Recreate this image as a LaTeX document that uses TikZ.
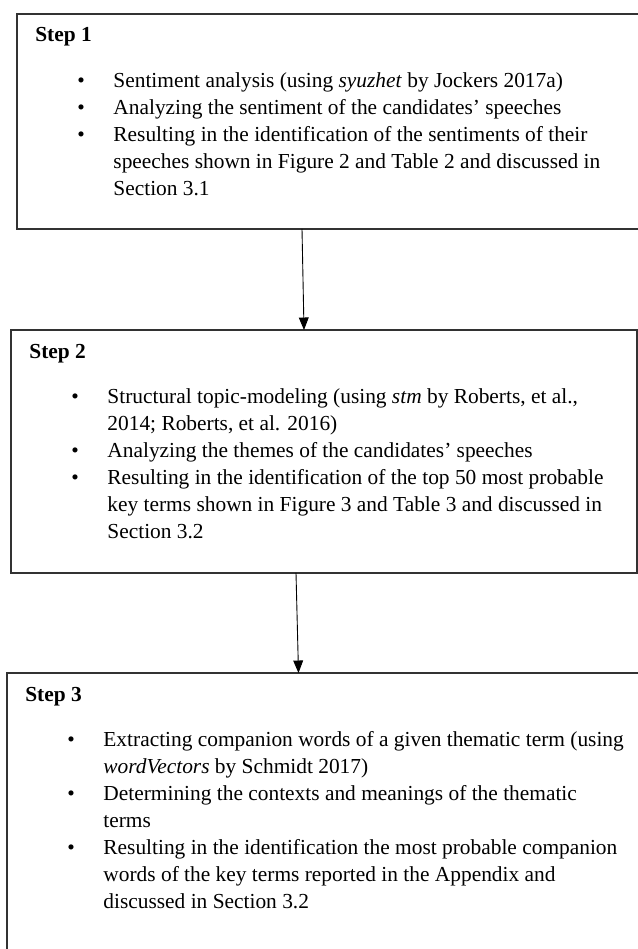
\documentclass[tikz,border=0pt]{standalone}
\usepackage{fontspec}
\setmainfont{Liberation Serif}
\usepackage{tikz}
\usetikzlibrary{arrows.meta,positioning}
\definecolor{boxgray}{RGB}{50,50,50}

\begin{document}
\begin{tikzpicture}[
    x=0.561pt, y=-0.561pt,
    stepbox/.style={rectangle, draw=boxgray, line width=0.8pt, anchor=north west, inner sep=0pt, outer sep=0pt},
    steptext/.style={anchor=base west, inner sep=0pt, font=\fontsize{12}{15.15}\selectfont},
    flow/.style={-{Triangle[width=5.5pt,length=7pt]}, line width=0.5pt}
]
\useasboundingbox (0,0) rectangle (638,949);
\clip (0,0) rectangle (638,949);

\node[stepbox, minimum width=350.6pt, minimum height=120.6pt] (s1) at (17,14) {};
\node[stepbox, minimum width=351.2pt, minimum height=136.3pt] (s2) at (11,330) {};
\node[stepbox, minimum width=360.7pt, minimum height=163.8pt] (s3) at (7,673) {};

\node[steptext] (t1) at ([shift={(18,28)}]s1.north west) {%
\begin{tabular}[t]{@{}p{23.6pt}@{}p{20.2pt}@{}p{330pt}@{}}
\multicolumn{3}{@{}l@{}}{\textbf{Step 1}}\\[10.6pt]
& \textbullet & Sentiment analysis (using \textit{syuzhet} by Jockers 2017a)\\
& \textbullet & Analyzing the sentiment of the candidates’ speeches\\
& \textbullet & Resulting in the identification of the sentiments of their\newline speeches shown in Figure 2 and Table 2 and discussed in\newline Section 3.1
\end{tabular}};
\node[steptext] (t2) at ([shift={(18,28)}]s2.north west) {%
\begin{tabular}[t]{@{}p{23.6pt}@{}p{20.2pt}@{}p{330pt}@{}}
\multicolumn{3}{@{}l@{}}{\textbf{Step 2}}\\[10.6pt]
& \textbullet & Structural topic-modeling (using \textit{stm} by Roberts, et al.,\newline 2014; Roberts, et al. 2016)\\
& \textbullet & Analyzing the themes of the candidates’ speeches\\
& \textbullet & Resulting in the identification of the top 50 most probable\newline key terms shown in Figure 3 and Table 3 and discussed in\newline Section 3.2
\end{tabular}};
\node[steptext] (t3) at ([shift={(18,28)}]s3.north west) {%
\begin{tabular}[t]{@{}p{23.6pt}@{}p{20.2pt}@{}p{330pt}@{}}
\multicolumn{3}{@{}l@{}}{\textbf{Step 3}}\\[10.6pt]
& \textbullet & Extracting companion words of a given thematic term (using\newline \textit{wordVectors} by Schmidt 2017)\\
& \textbullet & Determining the contexts and meanings of the thematic\newline terms\\
& \textbullet & Resulting in the identification the most probable companion\newline words of the key terms reported in the Appendix and\newline discussed in Section 3.2
\end{tabular}};

\coordinate (a1) at (302,0);
\coordinate (a1tip) at (304,0);
\coordinate (a2) at (296,0);
\coordinate (a2tip) at (298.5,0);
\draw[flow] (s1.south -| a1) -- (s2.north -| a1tip);
\draw[flow] (s2.south -| a2) -- (s3.north -| a2tip);
\end{tikzpicture}
\end{document}
